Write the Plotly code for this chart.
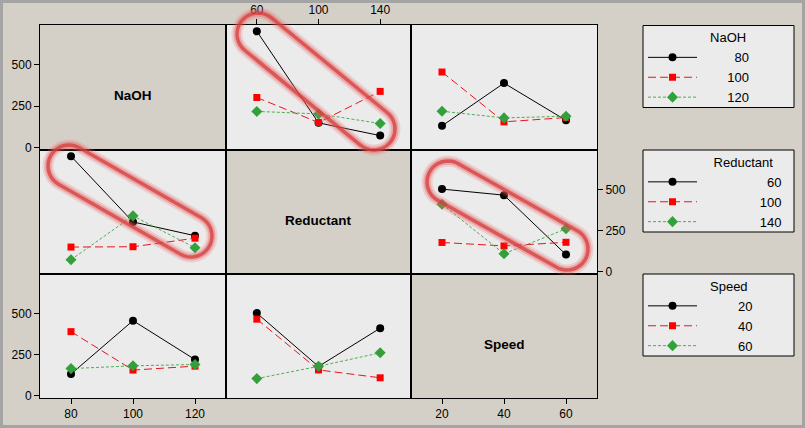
import numpy as np
import plotly.graph_objects as go

factor_names = ["NaOH", "Reductant", "Speed"]
naoh_levels = [80, 100, 120]
reductant_levels = [60, 100, 140]
speed_levels = [20, 40, 60]
# interaction means: rows = levels of first factor, columns = levels of second factor
naoh_by_reductant = [[703, 150, 73], [303, 152, 340], [219, 204, 146]]
naoh_by_speed = [[132, 390, 165], [457, 156, 182], [220, 180, 190]]
reductant_by_speed = [[503, 466, 104], [178, 157, 179], [411, 109, 261]]
y_ticks = [0, 250, 500]

levels = [naoh_levels, reductant_levels, speed_levels]
pair = {
    (0, 1): np.array(naoh_by_reductant),
    (0, 2): np.array(naoh_by_speed),
    (1, 2): np.array(reductant_by_speed),
}
pair[(1, 0)] = pair[(0, 1)].T
pair[(2, 0)] = pair[(0, 2)].T
pair[(2, 1)] = pair[(1, 2)].T

W, H = 805, 428
PL, PR, PT, PB = 40, 597, 25, 398
PW, PH = PR - PL, PB - PT
col_px = [40, 226, 411, 597]
row_px = [25, 150, 274, 398]

def px2paper(x, y):
    return (x - PL) / PW, (PB - y) / PH

FONT = "Liberation Sans, Arial, sans-serif"
BEIGE = "#d5d0c7"
CELL = "#ebebeb"
LEG_SIZE = 13

styles = [
    dict(line=dict(color="#000000", width=1, dash="solid"),
         marker=dict(color="#000000", symbol="circle", size=8)),
    dict(line=dict(color="#e8141c", width=1, dash="8px,4px"),
         marker=dict(color="#ff0000", symbol="square", size=7)),
    dict(line=dict(color="#4fae4f", width=1, dash="3px,2px"),
         marker=dict(color="#33a03c", symbol="diamond", size=8.5)),
]
legend_ids = ["legend", "legend2", "legend3"]

NB = "\u00a0"
# legend label padding (non-breaking spaces) so values sit right-aligned like the original
label_pad = [{80: 9, 100: 7, 120: 7}, {60: 18, 100: 16, 140: 16}, {20: 10, 40: 10, 60: 10}]
legend_titles = [NB * 18 + "NaOH", NB * 19 + "Reductant", NB * 18 + "Speed"]

fig = go.Figure()
xranges = [[70, 130], [40, 160], [10, 70]]
yrange = [-14, 741]

for r in range(3):
    first_shown = False
    for c in range(3):
        k = r * 3 + c + 1
        xa = "x" if k == 1 else f"x{k}"
        ya = "y" if k == 1 else f"y{k}"
        if r == c:
            # empty placeholder so the diagonal panel's axes are drawn
            fig.add_trace(go.Scatter(x=[None], y=[None], xaxis=xa, yaxis=ya,
                                     showlegend=False, hoverinfo="skip"))
            continue
        M = pair[(r, c)]
        for li, lev in enumerate(levels[r]):
            show = not first_shown
            fig.add_trace(go.Scatter(
                x=levels[c], y=M[li], mode="lines+markers",
                xaxis=xa, yaxis=ya, name=NB * label_pad[r][lev] + str(lev),
                legend=legend_ids[r], legendgroup=f"{r}-{li}",
                showlegend=show, **styles[li]))
        first_shown = True

layout = dict(
    width=W, height=H,
    margin=dict(l=PL, r=W - PR, t=PT, b=H - PB, autoexpand=False),
    paper_bgcolor=BEIGE, plot_bgcolor=CELL,
    font=dict(family=FONT, size=12, color="#000000"),
    showlegend=True,
)

shapes = []
annotations = []
for r in range(3):
    for c in range(3):
        k = r * 3 + c + 1
        xk = "xaxis" if k == 1 else f"xaxis{k}"
        yk = "yaxis" if k == 1 else f"yaxis{k}"
        xd = [(col_px[c] - PL) / PW, (col_px[c + 1] - PL) / PW]
        yd = [(PB - row_px[r + 1]) / PH, (PB - row_px[r]) / PH]
        ax_common = dict(showline=True, mirror=True, linecolor="#000000", linewidth=1,
                         showgrid=False, zeroline=False, fixedrange=True,
                         tickfont=dict(family=FONT, size=12, color="#000000"),
                         ticklen=5, tickcolor="#000000")
        xa = dict(domain=xd, range=xranges[c], anchor="y" if k == 1 else f"y{k}",
                  tickvals=levels[c], showticklabels=False, ticks="", **ax_common)
        ya = dict(domain=yd, range=yrange, anchor="x" if k == 1 else f"x{k}",
                  tickvals=y_ticks, showticklabels=False, ticks="", **ax_common)
        if (r == 2 and c in (0, 2)):
            xa.update(showticklabels=True, ticks="outside", side="bottom")
        if (r == 0 and c == 1):
            xa.update(showticklabels=True, ticks="outside", side="top")
        if (c == 0 and r in (0, 2)):
            ya.update(showticklabels=True, ticks="outside", side="left")
        if (c == 2 and r == 1):
            ya.update(showticklabels=True, ticks="outside", side="right")
        layout[xk] = xa
        layout[yk] = ya
        if r == c:
            xref = "x" if k == 1 else f"x{k}"
            yref = "y" if k == 1 else f"y{k}"
            shapes.append(dict(type="rect", xref=f"{xref} domain", yref=f"{yref} domain",
                               x0=0, x1=1, y0=0, y1=1, fillcolor=BEIGE,
                               line=dict(width=0), layer="below"))
            annotations.append(dict(text=f"<b>{factor_names[r]}</b>", xref=f"{xref} domain",
                                    yref=f"{yref} domain", x=0.5, y=0.5, yshift=-8,
                                    showarrow=False,
                                    font=dict(family=FONT, size=13.5, color="#000000")))

# legend boxes
box_tops = [25.5, 150, 274]
for i, top in enumerate(box_tops):
    x0, y1 = px2paper(643, top)
    x1, y0 = px2paper(794, top + 82)
    shapes.append(dict(type="rect", xref="paper", yref="paper", x0=x0, x1=x1, y0=y0, y1=y1,
                       fillcolor=CELL, line=dict(color="#000000", width=1), layer="below"))

for i, lid in enumerate(legend_ids):
    lx, ly = px2paper(643, box_tops[i])
    layout[lid] = dict(x=lx, y=ly, xanchor="left", yanchor="top",
                       bgcolor="rgba(0,0,0,0)", borderwidth=0, itemwidth=49,
                       title=dict(text=legend_titles[i],
                                  font=dict(family=FONT, size=LEG_SIZE, weight="normal")),
                       font=dict(family=FONT, size=LEG_SIZE, color="#000000"),
                       tracegroupgap=0, itemclick=False, itemdoubleclick=False)

# highlight capsules (pixel centres of the end caps, radius)
capsules = [((258, 34), (374, 129), 21), ((69, 166), (191, 236), 21), ((448, 182), (567, 249), 21)]

def capsule_path(p1, p2, rad, n=20):
    p1 = np.array(p1, float); p2 = np.array(p2, float)
    d = p2 - p1
    d /= np.hypot(*d)
    ang = np.arctan2(d[1], d[0])
    pts = []
    for a in np.linspace(ang - np.pi / 2, ang + np.pi / 2, n):
        pts.append(p2 + rad * np.array([np.cos(a), np.sin(a)]))
    for a in np.linspace(ang + np.pi / 2, ang + 3 * np.pi / 2, n):
        pts.append(p1 + rad * np.array([np.cos(a), np.sin(a)]))
    s = ""
    for i, p in enumerate(pts):
        X, Y = px2paper(p[0], p[1])
        s += ("M" if i == 0 else "L") + f"{X:.5f},{Y:.5f} "
    return s + "Z"

for p1, p2, rad in capsules:
    path = capsule_path(p1, p2, rad)
    for w, col in [(11, "rgba(235,110,110,0.22)"), (7, "rgba(230,90,90,0.35)"),
                   (3.5, "rgba(214,60,60,0.75)")]:
        shapes.append(dict(type="path", xref="paper", yref="paper", path=path,
                           line=dict(color=col, width=w), layer="above"))

# window frame
fx0, fy1 = px2paper(0, 0)
fx1, fy0 = px2paper(W, H)
shapes.append(dict(type="rect", xref="paper", yref="paper", x0=fx0, x1=fx1, y0=fy0, y1=fy1,
                   line=dict(color="#a4a4a4", width=6), layer="above"))

layout["shapes"] = shapes
layout["annotations"] = annotations
fig.update_layout(**layout)
fig.write_html("out.html", config={"displayModeBar": False},
               post_script="document.body.style.margin='0';")
